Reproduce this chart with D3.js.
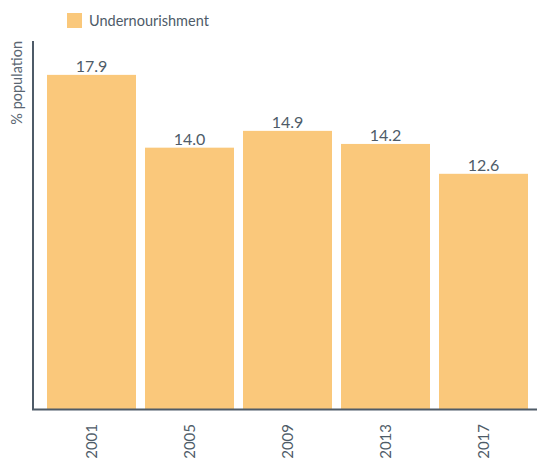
<!DOCTYPE html>
<html>
<head>
<meta charset="utf-8">
<script src="https://cdn.jsdelivr.net/npm/d3@7"></script>
<style>
  html, body { margin: 0; padding: 0; background: #fff; }
  svg { display: block; font-family: Lato, "Open Sans", sans-serif; }
</style>
</head>
<body>
<svg id="chart" width="537" height="465"></svg>
<script>
// Undernourishment, share of population by survey year
const years = ["2001", "2005", "2009", "2013", "2017"];
const undernourishment = [17.9, 14.0, 14.9, 14.2, 12.6];
const seriesName = "Undernourishment";
const yAxisTitle = "% population";

const barColor = "#fac87b";
const inkColor = "#4e5b68";

const svg = d3.select("#chart");

const x = d3.scaleBand()
  .domain(years)
  .range([42.5, 532.5])
  .paddingInner(9 / 98)
  .paddingOuter(9 / 196);

const y = d3.scaleLinear()
  .domain([0, 18])
  .range([409, 73]);

// Bars
svg.append("g")
  .selectAll("rect")
  .data(years)
  .join("rect")
  .attr("x", d => x(d))
  .attr("width", x.bandwidth())
  .attr("y", (d, i) => y(undernourishment[i]))
  .attr("height", (d, i) => y(0) - y(undernourishment[i]))
  .attr("fill", barColor);

// Value labels
svg.append("g")
  .selectAll("text")
  .data(years)
  .join("text")
  .attr("x", d => x(d) + x.bandwidth() / 2)
  .attr("y", (d, i) => y(undernourishment[i]) - 3)
  .attr("text-anchor", "middle")
  .attr("font-size", 16)
  .attr("fill", inkColor)
  .text((d, i) => undernourishment[i].toFixed(1));

// Axis lines
svg.append("line")
  .attr("x1", 33).attr("x2", 33)
  .attr("y1", 41).attr("y2", 410)
  .attr("stroke", inkColor).attr("stroke-width", 2);
svg.append("line")
  .attr("x1", 32).attr("x2", 537)
  .attr("y1", 409.5).attr("y2", 409.5)
  .attr("stroke", inkColor).attr("stroke-width", 2);

// X tick labels, rotated
const xAxis = d3.axisBottom(x).tickSize(0).tickPadding(0);
const gx = svg.append("g")
  .attr("transform", "translate(0,409)")
  .call(xAxis);
gx.select(".domain").remove();
gx.selectAll("text")
  .attr("font-family", "Lato, 'Open Sans', sans-serif")
  .attr("font-size", 15)
  .attr("fill", inkColor)
  .attr("transform", "rotate(-90)")
  .attr("x", -15)
  .attr("y", 0)
  .attr("dy", "0.35em")
  .attr("text-anchor", "end");

// Y axis title
svg.append("text")
  .attr("transform", "translate(22,41) rotate(-90)")
  .attr("text-anchor", "end")
  .attr("font-size", 14.5)
  .attr("fill", "#5a6672")
  .text(yAxisTitle);

// Legend
const legend = svg.append("g");
legend.append("rect")
  .attr("x", 67).attr("y", 13)
  .attr("width", 15).attr("height", 15)
  .attr("fill", barColor);
legend.append("text")
  .attr("x", 89).attr("y", 25.5)
  .attr("font-size", 14.5)
  .attr("fill", inkColor)
  .text(seriesName);
</script>
</body>
</html>
